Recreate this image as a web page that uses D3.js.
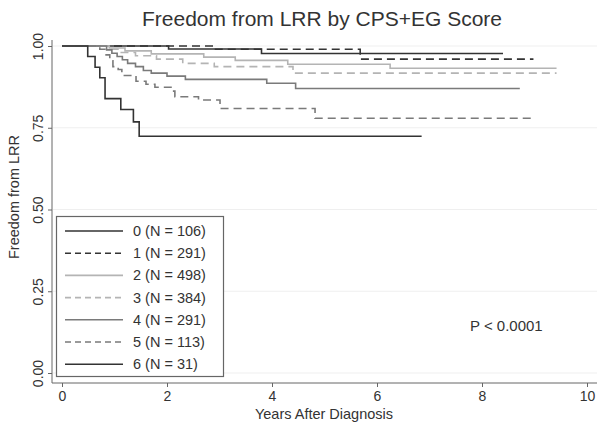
<!DOCTYPE html>
<html>
<head>
<meta charset="utf-8">
<script src="https://cdn.jsdelivr.net/npm/d3@7"></script>
<style>
  body { margin: 0; background: #fff; }
  text { font-family: "Liberation Sans", Arial, sans-serif; fill: #333; }
  .axis path, .axis line { stroke: #666; }
  .axis text { font-size: 14px; fill: #333; }
</style>
</head>
<body>
<svg width="597" height="426"></svg>
<script>
// survival steps for each score group: [years, freedom from LRR]
var groups = ["0 (N = 106)", "1 (N = 291)", "2 (N = 498)", "3 (N = 384)", "4 (N = 291)", "5 (N = 113)", "6 (N = 31)"];

var score0 = [[0, 1], [2.03, 0.991], [3.8, 0.977], [8.4, 0.977]];
var score1 = [[0, 1], [2.9, 0.99], [5.68, 0.96], [8.98, 0.96]];
var score2 = [[0, 1], [0.9, 0.994], [1.2, 0.985], [1.7, 0.976], [2.7, 0.966], [3.3, 0.956], [4.3, 0.944], [6.25, 0.932], [9.42, 0.932]];
var score3 = [[0, 1], [0.9, 0.99], [1.1, 0.98], [1.4, 0.97], [1.8, 0.96], [2.3, 0.947], [2.9, 0.937], [4.4, 0.917], [9.42, 0.917]];
var score4 = [[0, 1], [0.85, 0.988], [0.95, 0.978], [1.05, 0.968], [1.15, 0.958], [1.25, 0.947], [1.4, 0.937], [1.55, 0.925], [1.7, 0.917], [2.0, 0.908], [2.35, 0.898], [3.9, 0.886], [4.45, 0.87], [8.72, 0.87]];
var score5 = [[0, 1], [0.72, 0.99], [0.84, 0.973], [0.91, 0.955], [0.97, 0.937], [1.07, 0.928], [1.14, 0.91], [1.41, 0.892], [1.6, 0.883], [1.77, 0.874], [2.1, 0.862], [2.15, 0.845], [2.6, 0.835], [3.01, 0.809], [4.82, 0.779], [9.01, 0.779]];
var score6 = [[0, 1], [0.49, 0.968], [0.63, 0.935], [0.72, 0.903], [0.82, 0.839], [1.12, 0.806], [1.36, 0.768], [1.47, 0.724], [6.85, 0.724]];

var curves = [score0, score1, score2, score3, score4, score5, score6];
var colors = ["#333", "#333", "#b4b4b4", "#b4b4b4", "#7a7a7a", "#7a7a7a", "#333"];
var dashed = [false, true, false, true, false, true, false];

var xTicks = [0, 2, 4, 6, 8, 10];
var yTicks = [0, 0.25, 0.5, 0.75, 1];

var svg = d3.select("svg");

var x = d3.scaleLinear().domain([0, 10]).range([62, 587]);
var y = d3.scaleLinear().domain([0, 1]).range([373, 46]);

// gridlines
svg.append("g")
  .selectAll("line")
  .data(yTicks)
  .enter()
  .append("line")
  .attr("x1", 53)
  .attr("x2", 597)
  .attr("y1", function(d) { return y(d); })
  .attr("y2", function(d) { return y(d); })
  .attr("stroke", "#efefef")
  .attr("stroke-width", 1);

// axes
var yAxis = svg.append("g")
  .attr("class", "axis")
  .attr("transform", "translate(52,0)")
  .call(d3.axisLeft(y).tickValues(yTicks).tickFormat(d3.format(".2f")).tickSize(4).tickSizeOuter(0));
yAxis.select(".domain").attr("d", "M0,40V383");
// rotated tick labels, as Stata draws them
yAxis.selectAll("text")
  .attr("transform", "rotate(-90)")
  .attr("text-anchor", "middle")
  .attr("x", 0)
  .attr("y", -9)
  .attr("dy", "0");

var xAxis = svg.append("g")
  .attr("class", "axis")
  .attr("transform", "translate(0,383)")
  .call(d3.axisBottom(x).tickValues(xTicks).tickFormat(d3.format("d")).tickSize(4).tickSizeOuter(0));
xAxis.select(".domain").attr("d", "M52,0H597");
xAxis.selectAll("text").attr("y", 8);

// curves
var line = d3.line()
  .x(function(d) { return x(d[0]); })
  .y(function(d) { return y(d[1]); })
  .curve(d3.curveStepAfter);

svg.append("g")
  .selectAll("path")
  .data(curves)
  .enter()
  .append("path")
  .attr("d", line)
  .attr("fill", "none")
  .attr("stroke", function(d, i) { return colors[i]; })
  .attr("stroke-width", 1.6)
  .attr("stroke-dasharray", function(d, i) { return dashed[i] ? "8,5" : null; });

// titles
svg.append("text")
  .attr("x", 322)
  .attr("y", 26)
  .attr("text-anchor", "middle")
  .style("font-size", "21px")
  .text("Freedom from LRR by CPS+EG Score");

svg.append("text")
  .attr("x", 324)
  .attr("y", 419)
  .attr("text-anchor", "middle")
  .style("font-size", "14.5px")
  .text("Years After Diagnosis");

svg.append("text")
  .attr("transform", "translate(19,197) rotate(-90)")
  .attr("text-anchor", "middle")
  .style("font-size", "14.5px")
  .text("Freedom from LRR");

svg.append("text")
  .attr("x", 470)
  .attr("y", 331)
  .style("font-size", "15px")
  .text("P < 0.0001");

// legend
var legend = svg.append("g");
legend.append("rect")
  .attr("x", 56.5)
  .attr("y", 216.5)
  .attr("width", 167)
  .attr("height", 160)
  .attr("fill", "#fff")
  .attr("stroke", "#666")
  .attr("stroke-width", 1.2);

var rows = legend.selectAll("g.row")
  .data(groups)
  .enter()
  .append("g")
  .attr("class", "row")
  .attr("transform", function(d, i) { return "translate(0," + (231 + i * 22.2) + ")"; });

rows.append("line")
  .attr("x1", 65)
  .attr("x2", 123)
  .attr("stroke", function(d, i) { return colors[i]; })
  .attr("stroke-width", 1.6)
  .attr("stroke-dasharray", function(d, i) { return dashed[i] ? "6,4" : null; });

rows.append("text")
  .attr("x", 133)
  .attr("y", 5)
  .style("font-size", "14.5px")
  .text(function(d) { return d; });
</script>
</body>
</html>
